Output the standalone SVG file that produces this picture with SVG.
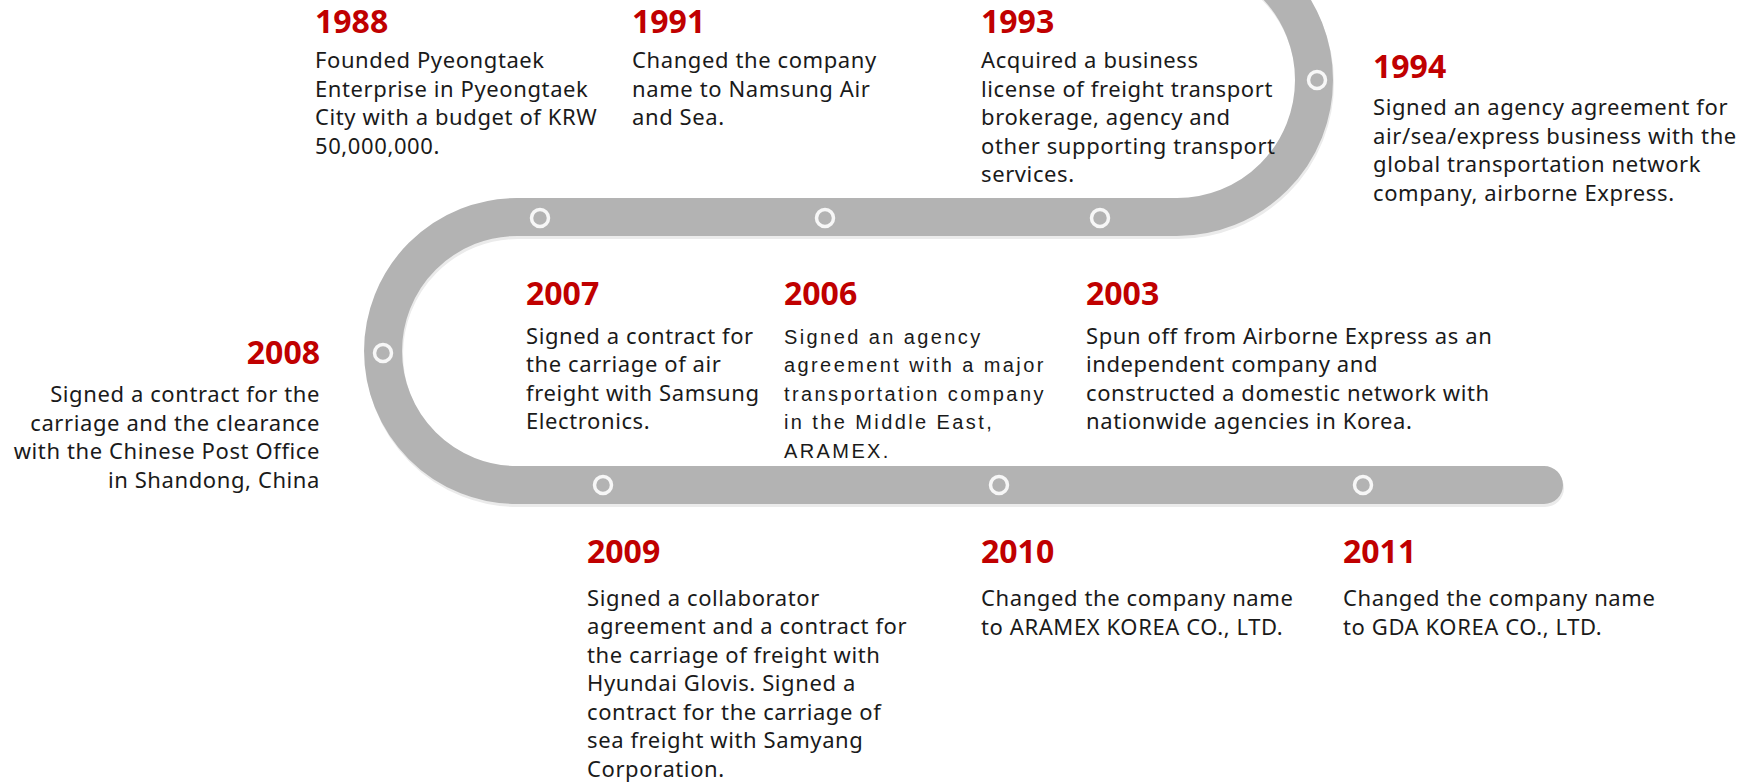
<svg xmlns="http://www.w3.org/2000/svg" width="1752" height="783" viewBox="0 0 1752 783">
<style>
.yr{font-family:"Noto Sans","Open Sans",sans-serif;font-weight:700;font-size:32px;fill:#c00000}
.tx{font-family:"Noto Sans","Open Sans",sans-serif;font-size:22px;letter-spacing:0.6px;fill:#1a1a1a}
.gx{font-family:"Liberation Sans",Arial,sans-serif;font-size:20px;letter-spacing:2.4px;fill:#1a1a1a}
.ring{fill:none;stroke:#f7f7f7;stroke-width:3.5}
</style>
<rect width="1752" height="783" fill="#ffffff"/>
<g id="track">
<path d="M 1177 -57 A 137 137 0 0 1 1177 217 L 517 217 A 134 134 0 0 0 517 485 L 1544 485" fill="none" stroke="#ebebeb" stroke-width="38" stroke-linecap="round" transform="translate(1,3)"/>
<path d="M 1177 -57 A 137 137 0 0 1 1177 217 L 517 217 A 134 134 0 0 0 517 485 L 1544 485" fill="none" stroke="#b3b3b3" stroke-width="38" stroke-linecap="round"/>
<circle class="ring" cx="1317" cy="80" r="8.5"/>
<circle class="ring" cx="1100" cy="218" r="8.5"/>
<circle class="ring" cx="825" cy="218" r="8.5"/>
<circle class="ring" cx="540" cy="218" r="8.5"/>
<circle class="ring" cx="383" cy="353" r="8.5"/>
<circle class="ring" cx="603" cy="485" r="8.5"/>
<circle class="ring" cx="999" cy="485" r="8.5"/>
<circle class="ring" cx="1363" cy="485" r="8.5"/>
</g>
<g id="n1988">
<text class="yr" x="315" y="33">1988</text>
<text class="tx" x="315" y="68">Founded Pyeongtaek</text>
<text class="tx" x="315" y="96.5">Enterprise in Pyeongtaek</text>
<text class="tx" x="315" y="125">City with a budget of KRW</text>
<text class="tx" x="315" y="153.5">50,000,000.</text>
</g>
<g id="n1991">
<text class="yr" x="632" y="33">1991</text>
<text class="tx" x="632" y="68">Changed the company</text>
<text class="tx" x="632" y="96.5">name to Namsung Air</text>
<text class="tx" x="632" y="125">and Sea.</text>
</g>
<g id="n1993">
<text class="yr" x="981" y="33">1993</text>
<text class="tx" x="981" y="68">Acquired a business</text>
<text class="tx" x="981" y="96.5">license of freight transport</text>
<text class="tx" x="981" y="125">brokerage, agency and</text>
<text class="tx" x="981" y="153.5">other supporting transport</text>
<text class="tx" x="981" y="182">services.</text>
</g>
<g id="n1994">
<text class="yr" x="1373" y="78">1994</text>
<text class="tx" x="1373" y="115">Signed an agency agreement for</text>
<text class="tx" x="1373" y="143.5">air/sea/express business with the</text>
<text class="tx" x="1373" y="172">global transportation network</text>
<text class="tx" x="1373" y="200.5">company, airborne Express.</text>
</g>
<g id="n2008" text-anchor="end">
<text class="yr" x="320" y="364">2008</text>
<text class="tx" x="320" y="402">Signed a contract for the</text>
<text class="tx" x="320" y="430.5">carriage and the clearance</text>
<text class="tx" x="320" y="459">with the Chinese Post Office</text>
<text class="tx" x="320" y="487.5">in Shandong, China</text>
</g>
<g id="n2007">
<text class="yr" x="526" y="305">2007</text>
<text class="tx" x="526" y="343.5">Signed a contract for</text>
<text class="tx" x="526" y="372">the carriage of air</text>
<text class="tx" x="526" y="400.5">freight with Samsung</text>
<text class="tx" x="526" y="429">Electronics.</text>
</g>
<g id="n2006">
<text class="yr" x="784" y="305">2006</text>
<text class="gx" x="784" y="343.5">Signed an agency</text>
<text class="gx" x="784" y="372">agreement with a major</text>
<text class="gx" x="784" y="400.5">transportation company</text>
<text class="gx" x="784" y="429">in the Middle East,</text>
<text class="gx" x="784" y="457.5">ARAMEX.</text>
</g>
<g id="n2003">
<text class="yr" x="1086" y="305">2003</text>
<text class="tx" x="1086" y="343.5">Spun off from Airborne Express as an</text>
<text class="tx" x="1086" y="372">independent company and</text>
<text class="tx" x="1086" y="400.5">constructed a domestic network with</text>
<text class="tx" x="1086" y="429">nationwide agencies in Korea.</text>
</g>
<g id="n2009">
<text class="yr" x="587" y="563">2009</text>
<text class="tx" x="587" y="605.5">Signed a collaborator</text>
<text class="tx" x="587" y="634">agreement and a contract for</text>
<text class="tx" x="587" y="662.5">the carriage of freight with</text>
<text class="tx" x="587" y="691">Hyundai Glovis. Signed a</text>
<text class="tx" x="587" y="719.5">contract for the carriage of</text>
<text class="tx" x="587" y="748">sea freight with Samyang</text>
<text class="tx" x="587" y="776.5">Corporation.</text>
</g>
<g id="n2010">
<text class="yr" x="981" y="563">2010</text>
<text class="tx" x="981" y="606">Changed the company name</text>
<text class="tx" x="981" y="634.5">to ARAMEX KOREA CO., LTD.</text>
</g>
<g id="n2011">
<text class="yr" x="1343" y="563">2011</text>
<text class="tx" x="1343" y="606">Changed the company name</text>
<text class="tx" x="1343" y="634.5">to GDA KOREA CO., LTD.</text>
</g>
</svg>
